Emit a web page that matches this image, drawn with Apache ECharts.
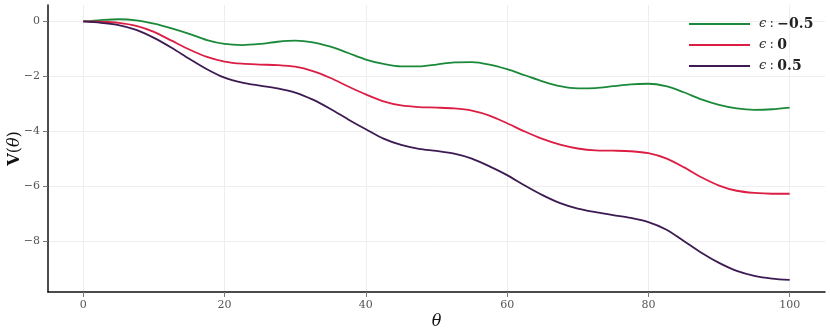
<!DOCTYPE html>
<html>
<head>
<meta charset="utf-8">
<script src="https://cdn.jsdelivr.net/npm/echarts@6/dist/echarts.min.js"></script>
<style>
html, body { margin: 0; padding: 0; background: #fff; }
#chart { width: 830px; height: 336px; }
</style>
</head>
<body>
<div id="chart"></div>
<script>
// theta samples
var theta = [0, 2.5, 5, 7.5, 10, 12.5, 15, 17.5, 20, 22.5, 25, 27.5, 30, 32.5, 35, 37.5, 40,
	42.5, 45, 47.5, 50, 52.5, 55, 57.5, 60, 62.5, 65, 67.5, 70, 72.5, 75, 77.5, 80,
	82.5, 85, 87.5, 90, 92.5, 95, 97.5, 100];

// eps = -0.5
var vNeg = [0, 0.05, 0.08, 0.04, -0.08, -0.25, -0.45, -0.68, -0.82, -0.86, -0.82, -0.74, -0.70,
	-0.76, -0.92, -1.15, -1.39, -1.55, -1.64, -1.64, -1.57, -1.49, -1.48, -1.57, -1.74,
	-1.96, -2.18, -2.36, -2.44, -2.43, -2.36, -2.29, -2.27, -2.36, -2.58, -2.84, -3.04,
	-3.17, -3.22, -3.20, -3.14];
// eps = 0
var vZero = [0, -0.01, -0.05, -0.16, -0.38, -0.70, -1.02, -1.29, -1.46, -1.54, -1.57, -1.59,
	-1.65, -1.81, -2.06, -2.37, -2.66, -2.91, -3.06, -3.12, -3.14, -3.17, -3.25, -3.43,
	-3.71, -4.01, -4.28, -4.49, -4.63, -4.70, -4.71, -4.73, -4.80, -4.99, -5.31, -5.68,
	-5.98, -6.17, -6.25, -6.28, -6.28];
// eps = 0.5
var vPos = [0, -0.05, -0.13, -0.31, -0.60, -0.96, -1.36, -1.74, -2.05, -2.23, -2.34, -2.44,
	-2.59, -2.85, -3.19, -3.57, -3.93, -4.27, -4.50, -4.64, -4.72, -4.82, -5.00, -5.28,
	-5.60, -5.98, -6.33, -6.62, -6.82, -6.95, -7.06, -7.16, -7.31, -7.58, -8.00, -8.43,
	-8.80, -9.09, -9.27, -9.37, -9.42];

var epsLabels = ['\u22120.5', '0', '0.5'];
var xTicks = [0, 20, 40, 60, 80, 100];
var yTicks = [0, -2, -4, -6, -8];

var colors = ['#1a8a3a', '#dc1e44', '#3d1a52'];
var serif = '"DejaVu Serif", "Liberation Serif", serif';

function pairs (ys)
{
	var out = [];
	for (var i = 0; i < theta.length; i++) {
		out.push([theta[i], ys[i]]);
	}
	return out;
}

var names = ['e0', 'e1', 'e2'];
var seriesData = [vNeg, vZero, vPos];
var series = [];
for (var k = 0; k < 3; k++) {
	series.push({
		name : names[k],
		type : 'line',
		data : pairs(seriesData[k]),
		smooth : 0.3,
		showSymbol : false,
		symbol : 'none',
		lineStyle : { color : colors[k], width : 1.8 },
		itemStyle : { color : colors[k] }
	});
}

var myChart = echarts.init(document.getElementById('chart'), null, { renderer : 'canvas' });
var option = {
	animation : false,
	backgroundColor : '#ffffff',
	grid : {
		left : 48,
		right : 5,
		top : 5,
		bottom : 44,
		containLabel : false,
		outerBoundsMode : 'none'
	},
	legend : {
		orient : 'vertical',
		left : 689,
		top : 17,
		padding : 0,
		itemWidth : 61,
		itemHeight : 2,
		itemGap : 7,
		icon : 'rect',
		data : names,
		formatter : function (name) {
			var i = names.indexOf(name);
			return '{e|\u03f5} {c|:} {v|' + epsLabels[i] + '}';
		},
		textStyle : {
			padding : [0, 0, 0, 4],
			lineHeight : 14,
			rich : {
				e : { fontFamily : serif, fontStyle : 'italic', fontSize : 13, color : '#333' },
				c : { fontFamily : serif, fontSize : 13, color : '#333' },
				v : { fontFamily : serif, fontWeight : 'bold', fontSize : 14, color : '#222' }
			}
		}
	},
	xAxis : {
		type : 'value',
		min : -5,
		max : 105,
		name : '\u03b8',
		nameLocation : 'middle',
		nameGap : 22,
		nameMoveOverlap : false,
		nameTextStyle : { fontFamily : serif, fontStyle : 'italic', fontSize : 16, color : '#111' },
		axisLine : { show : true, onZero : false, lineStyle : { color : '#111', width : 1.5 } },
		axisTick : { show : true, length : 5, customValues : xTicks, lineStyle : { color : '#777', width : 1 } },
		axisLabel : {
			customValues : xTicks,
			fontFamily : serif,
			fontSize : 11,
			color : '#555',
			margin : 8,
			formatter : function (v) { return String(v); }
		},
		splitLine : { show : true, lineStyle : { color : '#eeeeee', width : 1 } }
	},
	yAxis : {
		type : 'value',
		min : -9.86,
		max : 0.6,
		name : '{b|V}{n|(}{t|\u03b8}{n|)}',
		nameLocation : 'middle',
		nameGap : 25,
		nameRotate : 90,
		nameMoveOverlap : false,
		nameTextStyle : {
			fontFamily : serif,
			fontSize : 16,
			color : '#111',
			rich : {
				b : { fontFamily : serif, fontWeight : 'bold', fontSize : 16, color : '#111' },
				n : { fontFamily : serif, fontSize : 16, color : '#111' },
				t : { fontFamily : serif, fontStyle : 'italic', fontSize : 16, color : '#111' }
			}
		},
		axisLine : { show : true, onZero : false, lineStyle : { color : '#111', width : 1.5 } },
		axisTick : { show : true, length : 5, customValues : yTicks, lineStyle : { color : '#777', width : 1 } },
		axisLabel : {
			customValues : yTicks,
			fontFamily : serif,
			fontSize : 11,
			color : '#555',
			margin : 8,
			formatter : function (v) { return v < 0 ? '\u2212' + Math.abs(v) : String(v); }
		},
		splitLine : { show : true, lineStyle : { color : '#eeeeee', width : 1 } }
	},
	series : series
};
myChart.setOption(option);
</script>
</body>
</html>
